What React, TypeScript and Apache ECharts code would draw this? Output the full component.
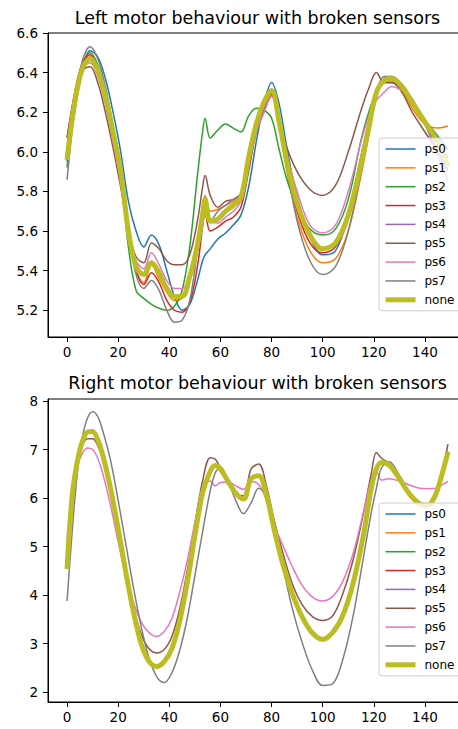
import React, { useEffect, useRef } from "react";
import * as echarts from "echarts";

const NAMES = ["ps0", "ps1", "ps2", "ps3", "ps4", "ps5", "ps6", "ps7", "none"];
const COLORS = ["#1f77b4", "#ff7f0e", "#2ca02c", "#d62728", "#9467bd", "#8c564b", "#e377c2", "#7f7f7f", "#bcbd22"];

// ---------- Left motor (top chart) ----------
const XT = [0, 3, 6, 9, 12, 15, 18, 21, 24, 27, 30, 33, 36, 39, 42, 45, 48, 51, 53, 54, 56, 59, 62, 65, 68, 71, 74, 77, 80, 83, 86, 90, 95, 100, 105, 110, 115, 118, 121, 124, 127, 131, 135, 140, 145, 149];

const leftNone = [5.96, 6.25, 6.42, 6.47, 6.41, 6.28, 6.1, 5.9, 5.6, 5.42, 5.38, 5.44, 5.39, 5.31, 5.27, 5.27, 5.37, 5.53, 5.68, 5.76, 5.65, 5.66, 5.7, 5.73, 5.77, 5.97, 6.14, 6.25, 6.31, 6.15, 5.95, 5.74, 5.58, 5.51, 5.54, 5.68, 5.94, 6.12, 6.3, 6.36, 6.37, 6.33, 6.25, 6.15, 6.05, 5.93];
const leftPs0 = [5.95, 6.2, 6.41, 6.51, 6.48, 6.37, 6.2, 6.0, 5.75, 5.6, 5.52, 5.58, 5.53, 5.4, 5.27, 5.2, 5.23, 5.35, 5.45, 5.48, 5.51, 5.56, 5.59, 5.63, 5.68, 5.82, 6.05, 6.24, 6.35, 6.24, 6.02, 5.77, 5.57, 5.48, 5.5, 5.68, 5.98, 6.15, 6.31, 6.37, 6.38, 6.33, 6.25, 6.16, 6.05, 5.97];
const leftPs1 = [6.0, 6.26, 6.43, 6.48, 6.41, 6.28, 6.1, 5.9, 5.58, 5.4, 5.34, 5.43, 5.36, 5.29, 5.25, 5.26, 5.35, 5.55, 5.72, 5.78, 5.7, 5.71, 5.73, 5.75, 5.79, 5.96, 6.11, 6.21, 6.28, 6.13, 5.9, 5.67, 5.5, 5.44, 5.46, 5.6, 5.88, 6.08, 6.27, 6.35, 6.35, 6.31, 6.22, 6.14, 6.12, 6.13];
const leftPs2 = [5.92, 6.24, 6.44, 6.5, 6.44, 6.3, 6.11, 5.88, 5.52, 5.3, 5.26, 5.23, 5.21, 5.2, 5.22, 5.3, 5.52, 5.88, 6.1, 6.17, 6.07, 6.11, 6.14, 6.12, 6.1, 6.18, 6.22, 6.21, 6.17, 6.01, 5.86, 5.72, 5.61, 5.58, 5.61, 5.76, 6.06, 6.2, 6.3, 6.35, 6.35, 6.32, 6.25, 6.16, 6.08, 6.01];
const leftPs3 = [6.07, 6.3, 6.45, 6.49, 6.42, 6.28, 6.1, 5.88, 5.58, 5.4, 5.33, 5.39, 5.34, 5.25, 5.2, 5.19, 5.24, 5.42, 5.62, 5.69, 5.6, 5.62, 5.65, 5.67, 5.72, 5.9, 6.1, 6.22, 6.3, 6.14, 5.92, 5.7, 5.54, 5.49, 5.52, 5.66, 5.95, 6.12, 6.3, 6.36, 6.36, 6.32, 6.24, 6.14, 6.03, 5.93];
const leftPs4 = leftNone;
const leftPs5 = [6.07, 6.28, 6.41, 6.43, 6.35, 6.2, 6.02, 5.82, 5.6, 5.47, 5.44, 5.54, 5.51, 5.45, 5.43, 5.43, 5.48, 5.65, 5.82, 5.88, 5.78, 5.72, 5.75, 5.76, 5.79, 5.94, 6.1, 6.2, 6.29, 6.15, 6.02, 5.9, 5.81, 5.78, 5.83, 6.0, 6.21, 6.32, 6.4, 6.35, 6.35, 6.3, 6.2, 6.1, 6.0, 5.91];
const leftPs6 = [6.0, 6.26, 6.42, 6.45, 6.38, 6.24, 6.05, 5.85, 5.6, 5.45, 5.41, 5.49, 5.43, 5.35, 5.31, 5.31, 5.38, 5.55, 5.68, 5.72, 5.65, 5.64, 5.67, 5.7, 5.75, 5.93, 6.1, 6.2, 6.28, 6.15, 5.98, 5.8, 5.63, 5.59, 5.63, 5.8, 6.05, 6.18, 6.26, 6.3, 6.33, 6.31, 6.27, 6.14, 5.98, 5.85];
const leftPs7 = [5.86, 6.22, 6.46, 6.53, 6.47, 6.33, 6.13, 5.9, 5.6, 5.38, 5.31, 5.35, 5.3, 5.2, 5.14, 5.15, 5.25, 5.5, 5.68, 5.72, 5.65, 5.7, 5.73, 5.76, 5.78, 5.95, 6.12, 6.22, 6.3, 6.16, 5.93, 5.65, 5.45, 5.38, 5.42, 5.6, 5.9, 6.12, 6.3, 6.38, 6.38, 6.34, 6.26, 6.14, 6.0, 5.9];

// ---------- Right motor (bottom chart) ----------
const XB = [0, 2, 4, 6, 8, 10, 12, 14, 17, 20, 23, 26, 29, 32, 35, 38, 41, 44, 47, 50, 53, 56, 58, 60, 63, 66, 69, 72, 75, 78, 81, 84, 88, 92, 96, 100, 104, 108, 112, 116, 119, 121, 123, 126, 130, 134, 138, 141, 144, 147, 149];

const rightNone = [4.54, 6.05, 6.75, 7.17, 7.36, 7.37, 7.2, 6.88, 6.2, 5.37, 4.47, 3.65, 3.0, 2.64, 2.53, 2.63, 2.9, 3.45, 4.25, 5.22, 6.1, 6.55, 6.67, 6.6, 6.34, 6.1, 5.98, 6.4, 6.46, 6.06, 5.36, 4.72, 4.05, 3.55, 3.22, 3.09, 3.24, 3.6, 4.27, 5.25, 6.2, 6.6, 6.73, 6.68, 6.4, 6.08, 5.88, 5.85, 6.05, 6.55, 6.95];
const rightPs0 = rightNone;
const rightPs1 = rightNone;
const rightPs2 = rightNone;
const rightPs3 = rightNone;
const rightPs4 = rightNone;
const rightPs5 = [4.6, 6.0, 6.7, 7.08, 7.22, 7.22, 7.08, 6.8, 6.15, 5.35, 4.5, 3.75, 3.2, 2.9, 2.81, 2.88, 3.15, 3.7, 4.5, 5.45, 6.35, 6.83, 6.8, 6.62, 6.37, 6.1, 6.05, 6.6, 6.7, 6.25, 5.55, 4.95, 4.25, 3.8, 3.56, 3.48, 3.58, 4.05, 4.75, 5.7, 6.5, 6.94, 6.82, 6.72, 6.42, 6.1, 5.88, 5.85, 6.07, 6.6, 7.11];
const rightPs6 = [5.15, 6.1, 6.65, 6.92, 7.03, 7.0, 6.82, 6.5, 5.85, 5.1, 4.4, 3.85, 3.45, 3.23, 3.15, 3.25, 3.52, 4.05, 4.7, 5.5, 6.22, 6.35, 6.25, 6.32, 6.33, 6.25, 6.18, 6.34, 6.28, 5.95, 5.45, 5.08, 4.6, 4.2, 3.96, 3.88, 3.98, 4.3, 4.88, 5.72, 6.38, 6.55, 6.37, 6.4, 6.35, 6.27, 6.2, 6.19, 6.2, 6.28, 6.35];
const rightPs7 = [3.88, 5.3, 6.5, 7.25, 7.65, 7.78, 7.68, 7.38, 6.78, 5.95, 5.05, 4.15, 3.35, 2.72, 2.33, 2.2, 2.4, 2.85, 3.52, 4.4, 5.3, 6.15, 6.52, 6.64, 6.35, 5.95, 5.68, 5.9, 6.2, 6.05, 5.5, 4.7, 3.75, 3.02, 2.45, 2.14, 2.18, 2.7, 3.6, 4.8, 5.7, 6.2, 6.62, 6.75, 6.47, 6.12, 5.9, 5.84, 6.05, 6.55, 6.95];

// ---------- ticks ----------
const X_TICKS = [0, 20, 40, 60, 80, 100, 120, 140];
const LEFT_Y_TICKS = [5.2, 5.4, 5.6, 5.8, 6.0, 6.2, 6.4, 6.6];
const RIGHT_Y_TICKS = [2, 3, 4, 5, 6, 7, 8];

const LEFT_SERIES = [leftPs0, leftPs1, leftPs2, leftPs3, leftPs4, leftPs5, leftPs6, leftPs7, leftNone];
const RIGHT_SERIES = [rightPs0, rightPs1, rightPs2, rightPs3, rightPs4, rightPs5, rightPs6, rightPs7, rightNone];

const FONT = "DejaVu Sans";

function xAxis(gridIndex: number) {
  return {
    type: "value",
    gridIndex,
    min: -7.45,
    max: 156.45,
    axisLine: { show: true, onZero: false, lineStyle: { color: "#000", width: 1 } },
    axisTick: { show: true, length: 5, customValues: X_TICKS, lineStyle: { color: "#000", width: 1 } },
    axisLabel: { customValues: X_TICKS, fontSize: 13.5, fontFamily: FONT, color: "#000", margin: 8, formatter: (v: number) => String(v) },
    splitLine: { show: false },
  };
}

function yAxis(gridIndex: number, min: number, max: number, ticks: number[], digits: number) {
  return {
    type: "value",
    gridIndex,
    min,
    max,
    axisLine: { show: true, onZero: false, lineStyle: { color: "#000", width: 1 } },
    axisTick: { show: true, length: 5, customValues: ticks, lineStyle: { color: "#000", width: 1 } },
    axisLabel: { customValues: ticks, fontSize: 13.5, fontFamily: FONT, color: "#000", margin: 10, formatter: (v: number) => v.toFixed(digits) },
    splitLine: { show: false },
  };
}

function legend(top: number) {
  return {
    orient: "vertical",
    left: 379,
    top,
    itemWidth: 30,
    itemHeight: 14,
    itemGap: 6.85,
    padding: [5, 24, 5, 4],
    backgroundColor: "rgba(255,255,255,0.8)",
    borderColor: "#cccccc",
    borderWidth: 1,
    borderRadius: 3,
    textStyle: { fontSize: 12, fontFamily: FONT, color: "#000", padding: [0, 0, 0, 4] },
    data: NAMES.map((n, i) => ({
      name: n,
      itemStyle: { opacity: 0 },
      lineStyle: { width: i === 8 ? 5 : 1.5, color: COLORS[i], opacity: 1 },
    })),
  };
}

function buildSeries(xs: number[], list: number[][], idx: number) {
  return list.map((ys, i) => ({
    name: NAMES[i],
    type: "line",
    xAxisIndex: idx,
    yAxisIndex: idx,
    data: xs.map((x, k) => [x, ys[k]]),
    symbol: "none",
    showSymbol: false,
    smooth: 0.35,
    lineStyle: { color: COLORS[i], width: i === 8 ? 5 : 1.5 },
    itemStyle: { color: COLORS[i] },
    z: i === 8 ? 3 : 2,
  }));
}

export default function App() {
  const ref = useRef<HTMLDivElement>(null);
  useEffect(() => {
    if (!ref.current) return;
    const chart = echarts.init(ref.current, undefined, { renderer: "svg" });
    chart.setOption({
      animation: false,
      backgroundColor: "#ffffff",
      grid: [
        { left: 48, top: 33, width: 419, height: 304, show: true, borderColor: "#000", borderWidth: 1, backgroundColor: "transparent" },
        { left: 48, top: 399, width: 419, height: 303, show: true, borderColor: "#000", borderWidth: 1, backgroundColor: "transparent" },
      ],
      xAxis: [xAxis(0), xAxis(1)],
      yAxis: [yAxis(0, 5.065, 6.6, LEFT_Y_TICKS, 1), yAxis(1, 1.8, 8.04, RIGHT_Y_TICKS, 0)],
      legend: [legend(138), legend(503)],
      graphic: [
        { type: "text", x: 257.5, y: 18, style: { text: "Left motor behaviour with broken sensors", fontSize: 17.5, fontFamily: FONT, fill: "#000", align: "center", verticalAlign: "middle" } },
        { type: "text", x: 257.5, y: 383, style: { text: "Right motor behaviour with broken sensors", fontSize: 17.5, fontFamily: FONT, fill: "#000", align: "center", verticalAlign: "middle" } },
      ],
      series: [...buildSeries(XT, LEFT_SERIES, 0), ...buildSeries(XB, RIGHT_SERIES, 1)],
    });
    return () => chart.dispose();
  }, []);
  return (
    <div style={{ position: "fixed", left: 0, top: 0, width: 458, height: 729, overflow: "hidden", background: "#fff" }}>
      <div ref={ref} style={{ width: 480, height: 729 }} />
    </div>
  );
}
